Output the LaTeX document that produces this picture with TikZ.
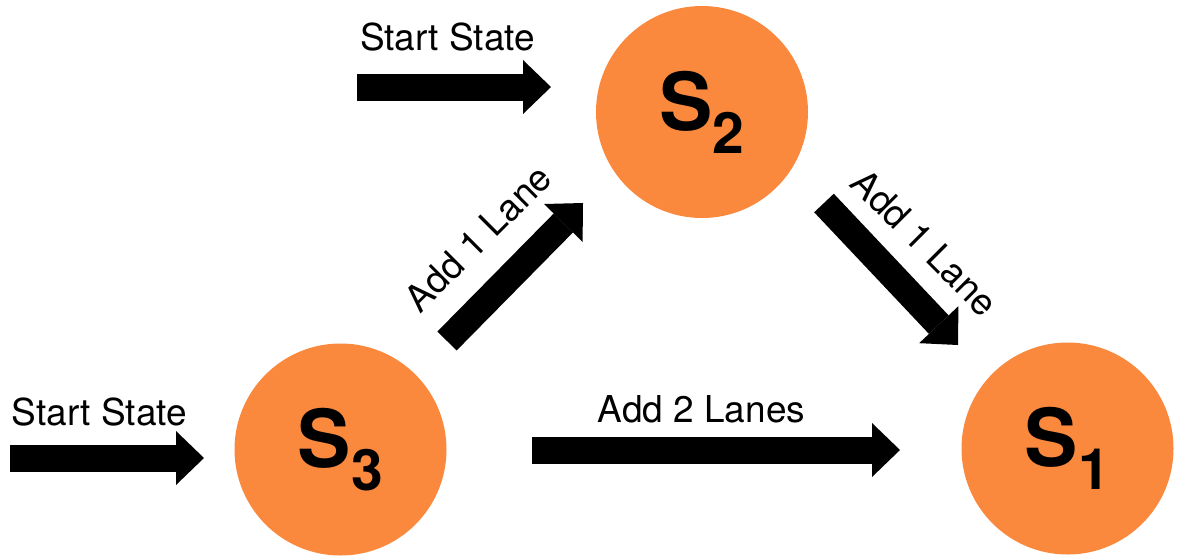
\documentclass[tikz,border=0pt]{standalone}
\usepackage{fontspec}
\setmainfont{TeX Gyre Heros}
\usetikzlibrary{arrows.meta}
\definecolor{stateorange}{RGB}{250,137,62}
\begin{document}
\begin{tikzpicture}[x=1pt,y=-1pt,
  state/.style={circle,fill=stateorange,draw=none,minimum size=212pt,inner sep=0pt,
    font=\fontsize{80}{80}\selectfont\bfseries},
  blockarrow/.style={line width=27pt,
    -{Triangle[length=28pt,width=54pt,line width=0pt]}},
  lbl/.style={font=\fontsize{37}{44}\selectfont,inner sep=0pt}]
\useasboundingbox (0,0) rectangle (1180,558);
\newcommand{\subidx}[1]{\raisebox{-23pt}{\fontsize{57}{57}\selectfont #1}}
% states
\node[state] (s2) at (702,112) {S\subidx{2}};
\node[state] (s3) at (340.5,449.5) {S\subidx{3}};
\node[state] (s1) at (1067.5,448.5) {S\subidx{1}};
% arrow end points
\coordinate (st2a) at (357,87);
\coordinate (st2b) at (551,87);
\coordinate (st3a) at (10,458);
\coordinate (st3b) at (204,458);
\coordinate (a32a) at (447,341);
\coordinate (a32b) at (583,203);
\coordinate (a21a) at (824,203);
\coordinate (a21b) at (958,345);
\coordinate (a31a) at (532,450);
\coordinate (a31b) at (900,450);
% arrows
\draw[blockarrow] (st2a) -- (st2b);
\draw[blockarrow] (st3a) -- (st3b);
\draw[blockarrow] (a32a) -- (a32b);
\draw[blockarrow] (a21a) -- (a21b);
\draw[blockarrow] (a31a) -- (a31b);
% labels
\node[lbl,anchor=base] (l1) at (447.5,50) {Start State};
\node[lbl,anchor=base] (l2) at (99.5,425) {Start State};
\node[lbl,anchor=base] (l3) at (701.5,422) {Add 2 Lanes};
\node[lbl,rotate=45] (l4) at (478,238) {Add 1 Lane};
\node[lbl,rotate=-45] (l5) at (925,242.5) {Add 1 Lane};
\end{tikzpicture}
\end{document}
